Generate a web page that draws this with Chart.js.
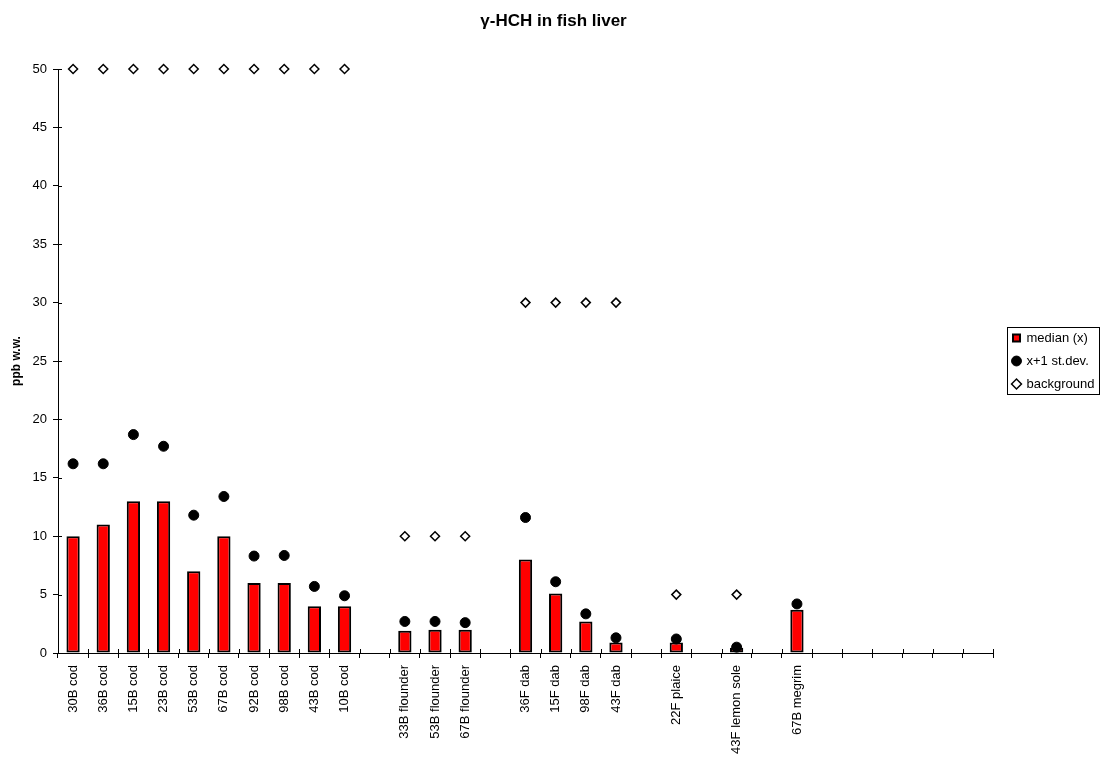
<!DOCTYPE html>
<html>
<head>
<meta charset="utf-8">
<script src="https://cdn.jsdelivr.net/npm/chart.js@4/dist/chart.umd.min.js"></script>
<style>
  html, body { margin: 0; padding: 0; background: #fff; }
  #wrap { width: 1107px; height: 765px; }
</style>
</head>
<body>
<div id="wrap"><canvas id="c" width="1107" height="765"></canvas></div>
<script>
const categories = [
  "30B cod","36B cod","15B cod","23B cod","53B cod","67B cod","92B cod","98B cod","43B cod","10B cod",
  "",
  "33B flounder","53B flounder","67B flounder",
  "",
  "36F dab","15F dab","98F dab","43F dab",
  "",
  "22F plaice",
  "",
  "43F lemon sole",
  "",
  "67B megrim",
  "","","","","",""
];
const medianValues = [10,11,13,13,7,10,6,6,4,4, null, 1.9,2,2, null, 8,5.1,2.7,0.9, null, 0.9, null, 0.45, null, 3.7, null,null,null,null,null,null];
const stdevValues  = [16.2,16.2,18.7,17.7,11.8,13.4,8.3,8.35,5.7,4.9, null, 2.7,2.7,2.6, null, 11.6,6.1,3.35,1.3, null, 1.2, null, 0.5, null, 4.2, null,null,null,null,null,null];
const backgroundValues = [50,50,50,50,50,50,50,50,50,50, null, 10,10,10, null, 30,30,30,30, null, 5, null, 5, null, null, null,null,null,null,null,null];
const yTicks = { min: 0, max: 50, step: 5 };

Chart.defaults.font.family = "'Liberation Sans', Arial, sans-serif";
Chart.defaults.color = '#000';

const axisExtras = {
  id: 'axisExtras',
  afterInit(chart) {
    const lg = chart.legend;
    if (lg) {
      const f = lg.fit.bind(lg);
      lg.fit = function () { f(); this.width = 114; };
    }
  },
  afterLayout(chart) {
    const lg = chart.legend;
    if (lg) {
      lg.left += 10;
      lg.top = chart.chartArea.top;
      lg.bottom = chart.chartArea.bottom;
      lg.height = lg.bottom - lg.top;
    }
  },
  afterDatasetsDraw(chart) {
    const ctx = chart.ctx;
    const a = chart.chartArea;
    const ys = chart.scales.y;
    ctx.save();
    ctx.strokeStyle = '#000';
    ctx.lineWidth = 1;
    ctx.beginPath();
    for (let v = yTicks.min; v <= yTicks.max; v += yTicks.step) {
      const y = Math.round(ys.getPixelForValue(v)) + 0.5;
      ctx.moveTo(a.left, y); ctx.lineTo(a.left + 4, y);
    }
    const n = categories.length;
    const w = (a.right - a.left) / n;
    for (let i = 0; i <= n; i++) {
      const x = Math.round(a.left + i * w) + 0.5;
      ctx.moveTo(x, a.bottom); ctx.lineTo(x, a.bottom - 4);
    }
    ctx.stroke();
    ctx.restore();
  },
  afterDraw(chart) {
    const lg = chart.legend;
    if (!lg || !lg.legendHitBoxes || !lg.legendHitBoxes.length) return;
    const hb = lg.legendHitBoxes;
    let l = Infinity, t = Infinity, r = -Infinity, b = -Infinity;
    hb.forEach(h => {
      l = Math.min(l, h.left); t = Math.min(t, h.top);
      r = Math.max(r, h.left + h.width); b = Math.max(b, h.top + h.height);
    });
    const ctx = chart.ctx;
    ctx.save();
    ctx.strokeStyle = '#000';
    ctx.lineWidth = 1;
    ctx.strokeRect(Math.round(l - 6) + 0.5, Math.round(t - 5) + 0.5, Math.round(r - l + 11), Math.round(b - t + 8));
    ctx.restore();
  }
};

new Chart(document.getElementById('c'), {
  type: 'bar',
  data: {
    labels: categories,
    datasets: [
      {
        type: 'bar',
        label: 'median (x)',
        data: medianValues,
        backgroundColor: '#ff0000',
        borderColor: '#000',
        borderWidth: 2,
        borderSkipped: false,
        barPercentage: 0.44,
        categoryPercentage: 1.0,
        pointStyle: 'rect',
        order: 3
      },
      {
        type: 'line',
        label: 'x+1 st.dev.',
        data: stdevValues,
        showLine: false,
        clip: false,
        pointStyle: 'circle',
        pointRadius: 5,
        pointBackgroundColor: '#000',
        pointBorderColor: '#000',
        pointBorderWidth: 1,
        backgroundColor: '#000',
        borderColor: '#000',
        order: 2
      },
      {
        type: 'line',
        label: 'background',
        data: backgroundValues,
        showLine: false,
        clip: false,
        pointStyle: 'rectRot',
        pointRadius: 4.5,
        pointBackgroundColor: '#fff',
        pointBorderColor: '#000',
        pointBorderWidth: 1.5,
        backgroundColor: '#fff',
        borderColor: '#000',
        borderWidth: 1.5,
        order: 1
      }
    ]
  },
  options: {
    responsive: false,
    animation: false,
    layout: { padding: { left: 0, right: 0, top: 0, bottom: 0 } },
    plugins: {
      title: {
        display: true,
        text: 'γ-HCH in fish liver',
        font: { size: 17, weight: 'bold' },
        padding: { top: 11.4, bottom: 37.2 },
        color: '#000'
      },
      legend: {
        display: true,
        position: 'right',
        align: 'center',
        labels: {
          usePointStyle: true,
          boxWidth: 7,
          boxHeight: 7,
          padding: 10,
          font: { size: 13 },
          color: '#000',
          sort: (a, b) => a.datasetIndex - b.datasetIndex
        }
      },
      tooltip: { enabled: false }
    },
    scales: {
      x: {
        type: 'category',
        offset: true,
        grid: { offset: true, drawOnChartArea: false, tickLength: 5, color: '#000', lineWidth: 1 },
        border: { display: true, color: '#000', width: 1 },
        ticks: { autoSkip: false, maxRotation: 90, minRotation: 90, padding: 7, font: { size: 13 }, color: '#000' },
        afterFit(s) { s.height = 112; }
      },
      y: {
        min: yTicks.min,
        max: yTicks.max,
        grid: { drawOnChartArea: false, tickLength: 5, color: '#000', lineWidth: 1 },
        border: { display: true, color: '#000', width: 1 },
        ticks: { stepSize: yTicks.step, padding: 6, font: { size: 13 }, color: '#000' },
        title: { display: true, text: 'ppb w.w.', font: { size: 12, weight: 'bold' }, padding: { top: 9, bottom: 0 }, color: '#000' },
        afterFit(s) { s.width = 58; }
      }
    }
  },
  plugins: [axisExtras]
});
</script>
</body>
</html>
